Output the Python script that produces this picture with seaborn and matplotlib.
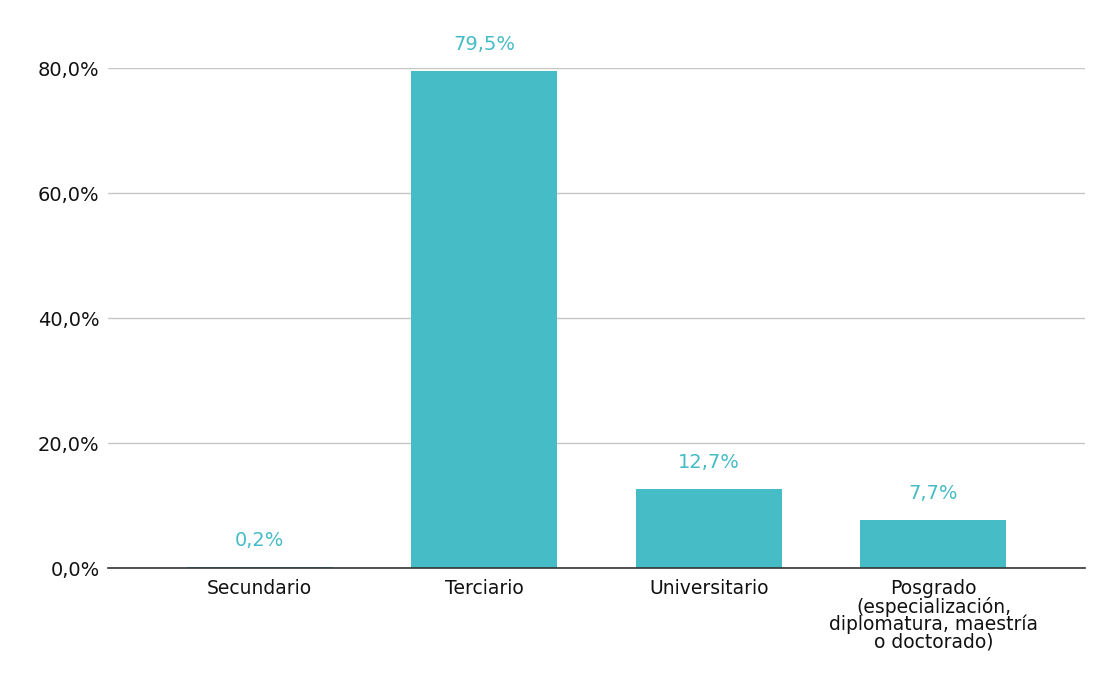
import matplotlib
matplotlib.use("Agg")
import matplotlib.pyplot as plt
import seaborn as sns
import pandas as pd
from matplotlib.ticker import FuncFormatter

categorias = ["Secundario", "Terciario", "Universitario",
              "Posgrado\n(especialización,\ndiplomatura, maestría\no doctorado)"]
porcentajes = [0.2, 79.5, 12.7, 7.7]
ticks_y = [0, 20, 40, 60, 80]

color_barra = "#46BCC6"

df = pd.DataFrame({"Nivel": categorias, "Porcentaje": porcentajes})

sns.set_theme(style="white")
plt.rcParams['font.family'] = ['DejaVu Sans']

fig = plt.figure(figsize=(11.2, 6.89), dpi=100)
ax = fig.add_axes([0.0964, 0.1756, 0.8724, 0.7257])

sns.barplot(data=df, x="Nivel", y="Porcentaje", color=color_barra,
            width=0.65, saturation=1, edgecolor="none", ax=ax, zorder=3)

for i, v in enumerate(porcentajes):
    ax.annotate(f"{v:.1f}%".replace(".", ","), (i, v), xytext=(0, 19),
                textcoords="offset points", ha="center", va="center",
                color=color_barra, fontsize=14, annotation_clip=False)

ax.set_ylim(0, 80)
ax.set_xlim(-0.675, 3.675)
ax.set_yticks(ticks_y)
ax.yaxis.set_major_formatter(FuncFormatter(lambda v, p: f"{v:.1f}%".replace(".", ",")))
ax.grid(axis="y", color="#C6C6C6", linewidth=1, zorder=0)
ax.set_axisbelow(True)
for s in ["top", "right", "left"]:
    ax.spines[s].set_visible(False)
ax.spines["bottom"].set_color("#333333")
ax.spines["bottom"].set_linewidth(1.2)
ax.spines["bottom"].set_zorder(4)
ax.tick_params(axis="both", length=0, colors="#111111")
ax.tick_params(axis="y", pad=6, labelsize=14)
ax.tick_params(axis="x", pad=8, labelsize=13.5)
for lab in ax.get_xticklabels():
    lab.set_linespacing(0.9)
ax.set_xlabel("")
ax.set_ylabel("")

fig.savefig("out.png", dpi=100)
